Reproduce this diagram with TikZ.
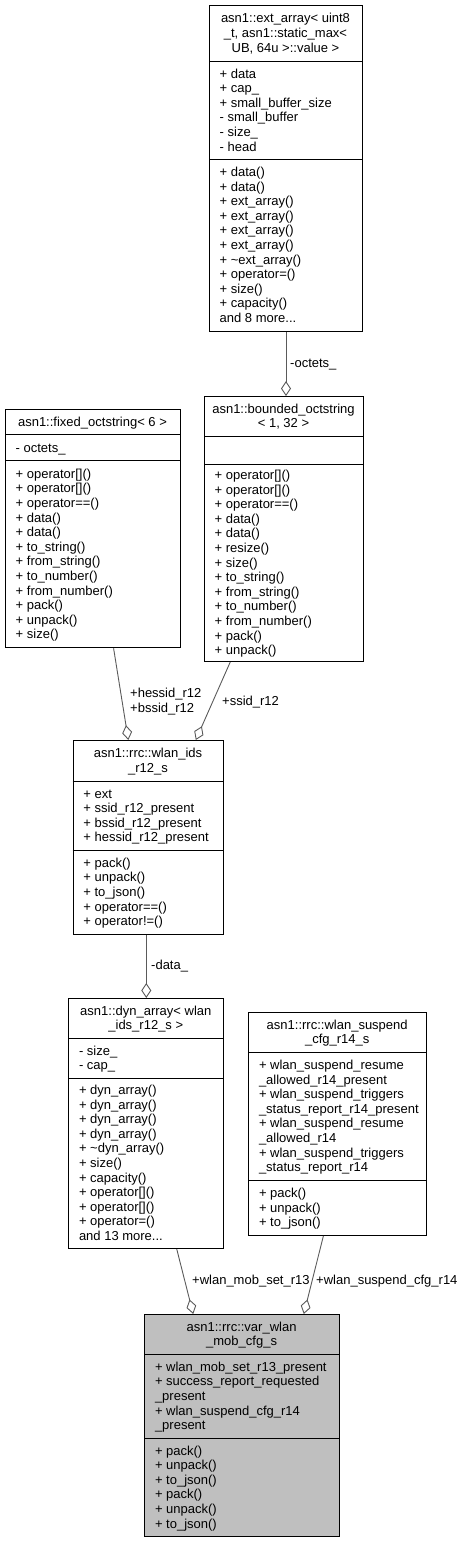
\documentclass[tikz,border=0pt]{standalone}
\usepackage{fontspec}
\setmainfont{Liberation Sans}
\usetikzlibrary{arrows.meta,calc}
\definecolor{edgecol}{HTML}{5A5A5A}
\definecolor{selfill}{HTML}{BFBFBF}
\tikzset{
  umlbox/.style={draw=black, line width=1pt, fill=white, inner sep=0pt, anchor=north west},
  txt/.style={inner sep=0pt, font=\fontsize{13}{14.6}\selectfont},
  aggr/.style={draw=edgecol, line width=0.9pt, -{Diamond[open, length=15pt, width=10pt, line width=0.9pt]}},
  lbl/.style={txt, anchor=base west}
}
\newcommand\mylines[5]{\foreach \t [count=\i from 0] in {#5} {\node[txt,anchor=#2] (#1\i) at (#3,{#4+\i*14.6}) {\t};}}
\begin{document}
\begin{tikzpicture}[x=1pt,y=-1pt]
\useasboundingbox (0,0) rectangle (462,1543);
% ---------- A: ext_array
\node[umlbox, minimum width=153pt, minimum height=326pt] (A) at (209,5) {};
\draw[line width=1pt] (209,61) -- (362,61) (209,159) -- (362,159);
\mylines{At}{base}{285.5}{22.9}{asn1::ext\_array< uint8, {\_t, asn1::static\_max<}, {UB, 64u >::value >}}
\mylines{Aa}{base west}{219.5}{78}{+ data, + cap\_, + small\_buffer\_size, - small\_buffer, - size\_, - head}
\mylines{Am}{base west}{219.5}{176.5}{+ data(), + data(), + ext\_array(), + ext\_array(), + ext\_array(), + ext\_array(), + \textasciitilde{}ext\_array(), + operator=(), + size(), + capacity(), and 8 more.{}.{}.}
% ---------- B: fixed_octstring
\node[umlbox, minimum width=175pt, minimum height=238pt] (B) at (5,409.3) {};
\draw[line width=1pt] (5,434.3) -- (180,434.3) (5,460.7) -- (180,460.7);
\mylines{Bt}{base}{92.5}{426.3}{asn1::fixed\_octstring< 6 >}
\mylines{Ba}{base west}{15.5}{452}{- octets\_}
\mylines{Bm}{base west}{15.5}{478.2}{+ operator[](), + operator[](), + operator==(), + data(), + data(), + to\_string(), + from\_string(), + to\_number(), + from\_number(), + pack(), + unpack(), + size()}
% ---------- C: bounded_octstring
\node[umlbox, minimum width=159pt, minimum height=265pt] (C) at (204,396) {};
\draw[line width=1pt] (204,436) -- (363,436) (204,464) -- (363,464);
\mylines{Ct}{base}{283.5}{413.2}{asn1::bounded\_octstring, {< 1, 32 >}}
\mylines{Cm}{base west}{214.5}{479.4}{+ operator[](), + operator[](), + operator==(), + data(), + data(), + resize(), + size(), + to\_string(), + from\_string(), + to\_number(), + from\_number(), + pack(), + unpack()}
% ---------- D: wlan_ids_r12_s
\node[umlbox, minimum width=150.6pt, minimum height=194pt] (D) at (72.7,740) {};
\draw[line width=1pt] (72.7,781) -- (223.3,781) (72.7,850) -- (223.3,850);
\mylines{Dt}{base}{148}{757.7}{asn1::rrc::wlan\_ids, \_r12\_s}
\mylines{Da}{base west}{83.2}{798.1}{+ ext, + ssid\_r12\_present, + bssid\_r12\_present, + hessid\_r12\_present}
\mylines{Dm}{base west}{83.2}{867.3}{+ pack(), + unpack(), + to\_json(), + operator==(), + operator!=()}
% ---------- E: dyn_array
\node[umlbox, minimum width=155pt, minimum height=250pt] (E) at (68.3,998) {};
\draw[line width=1pt] (68.3,1038) -- (223.3,1038) (68.3,1078) -- (223.3,1078);
\mylines{Et}{base}{145.8}{1015.2}{asn1::dyn\_array< wlan, \_ids\_r12\_s >}
\mylines{Ea}{base west}{78.8}{1055.2}{- size\_, - cap\_}
\mylines{Em}{base west}{78.8}{1094.5}{+ dyn\_array(), + dyn\_array(), + dyn\_array(), + dyn\_array(), + \textasciitilde{}dyn\_array(), + size(), + capacity(), + operator[](), + operator[](), + operator=(), and 13 more.{}.{}.}
% ---------- F: wlan_suspend_cfg_r14_s
\node[umlbox, minimum width=177.7pt, minimum height=223pt] (F) at (248.3,1012) {};
\draw[line width=1pt] (248.3,1052) -- (426,1052) (248.3,1180) -- (426,1180);
\mylines{Ft}{base}{337.2}{1029.2}{asn1::rrc::wlan\_suspend, \_cfg\_r14\_s}
\mylines{Fa}{base west}{258.8}{1069.4}{+ wlan\_suspend\_resume, \_allowed\_r14\_present, + wlan\_suspend\_triggers, \_status\_report\_r14\_present, + wlan\_suspend\_resume, \_allowed\_r14, + wlan\_suspend\_triggers, \_status\_report\_r14}
\mylines{Fm}{base west}{258.8}{1197.4}{+ pack(), + unpack(), + to\_json()}
% ---------- G: var_wlan_mob_cfg_s
\node[umlbox, fill=selfill, minimum width=194.7pt, minimum height=222pt] (G) at (144.3,1314) {};
\draw[line width=1pt] (144.3,1354) -- (339,1354) (144.3,1438) -- (339,1438);
\mylines{Gt}{base}{241.6}{1331.2}{asn1::rrc::var\_wlan, \_mob\_cfg\_s}
\mylines{Ga}{base west}{154.8}{1371.3}{+ wlan\_mob\_set\_r13\_present, + success\_report\_requested, \_present, + wlan\_suspend\_cfg\_r14, \_present}
\mylines{Gm}{base west}{154.8}{1455}{+ pack(), + unpack(), + to\_json(), + pack(), + unpack(), + to\_json()}
% ---------- connectors
\draw[aggr] (A.south) -- (A.south |- C.north);
\node[lbl] (lAC) at (290,367.5) {-octets\_};
\draw[aggr] ($(B.south west)!0.617!(B.south east)$) -- ($(D.north west)!0.367!(D.north east)$);
\node[lbl] (lBD1) at (130,697.5) {+hessid\_r12};
\node[lbl] (lBD2) at (130,712.5) {+bssid\_r12};
\draw[aggr] ($(C.south west)!0.164!(C.south east)$) -- ($(D.north west)!0.812!(D.north east)$);
\node[lbl] (lCD) at (222,705.5) {+ssid\_r12};
\draw[aggr] (D.south -| E.north) -- (E.north);
\node[lbl] (lDE) at (151,969.5) {-data\_};
\draw[aggr] ($(E.south west)!0.695!(E.south east)$) -- ($(G.north west)!0.25!(G.north east)$);
\node[lbl] (lEG) at (192,1284.5) {+wlan\_mob\_set\_r13};
\draw[aggr] ($(F.south west)!0.42!(F.south east)$) -- ($(G.north west)!0.815!(G.north east)$);
\node[lbl] (lFG) at (316,1284.5) {+wlan\_suspend\_cfg\_r14};
\end{tikzpicture}
\end{document}
